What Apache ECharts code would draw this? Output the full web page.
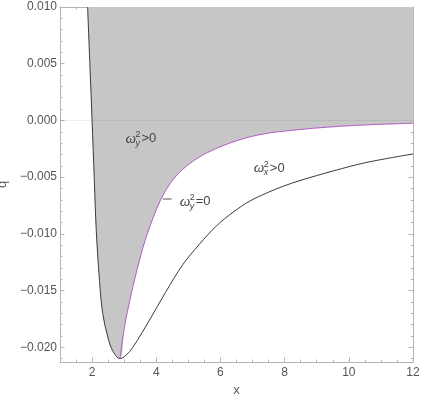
<!DOCTYPE html>
<html>
<head>
<meta charset="utf-8">
<style>html,body{margin:0;padding:0;background:#fff}#c{width:422px;height:396px}</style>
<script src="https://cdn.jsdelivr.net/npm/echarts@6/dist/echarts.min.js"></script>
</head>
<body>
<div id="c"></div>
<script>
// ---- data ----
const xTicks = [2, 4, 6, 8, 10, 12];
const yTicks = [-0.020, -0.015, -0.010, -0.005, 0.000, 0.005, 0.010];

// black boundary curve (omega_x^2 = 0 / left branch)
const blackX = [1.86, 1.93, 2.00, 2.07, 2.13, 2.23, 2.33, 2.49, 2.64, 2.87, 3.06, 3.27, 3.79, 4.28, 4.83, 5.35, 5.875, 6.39, 6.92, 7.44, 7.96, 8.48, 9.52, 10.56, 12.0];
const blackQ = [0.010, 0.005, 0.000, -0.0053, -0.0097, -0.0141, -0.0170, -0.0191, -0.0203, -0.0210, -0.0207, -0.0200, -0.0176, -0.0152, -0.0127, -0.0109, -0.0093, -0.0081, -0.0071, -0.0064, -0.0058, -0.0053, -0.00445, -0.0037, -0.00296];

// magenta curve (omega_y^2 = 0)
const magX = [2.87, 3.01, 3.22, 3.48, 3.72, 4.12, 4.45, 4.83, 5.3, 5.6, 6.29, 7.23, 8.48, 10.14, 12.0];
const magQ = [-0.0210, -0.0182, -0.0153, -0.0123, -0.0100, -0.0071, -0.0055, -0.0043, -0.0033, -0.00283, -0.0020, -0.00125, -0.0008, -0.00045, -0.00025];

// ---- layout / style ----
const X_MIN = 1, X_MAX = 12, Y_MIN = -0.0213, Y_MAX = 0.010;
const FRAME = '#b4b4b4', TXT = '#555';

const xMinor = [];
for (let i = 2; i <= 24; i++) { const v = i / 2; if (v % 2 !== 0) xMinor.push(v); }
const yMinor = [];
for (let i = -21; i <= 10; i++) { if (i % 5 !== 0) yMinor.push(i / 1000); }

const pair = (xs, ys) => xs.map((x, i) => [x, ys[i]]);
const blackData = pair(blackX, blackQ);
const magData = pair(magX, magQ);
const minIdx = blackQ.indexOf(Math.min(...blackQ));
const fillData = blackData.slice(0, minIdx + 1).concat(magData.slice(1));

const fmtY = v => {
  const a = Math.abs(v).toFixed(3);
  return (v < -1e-9 ? '\u2212' : '') + a;
};

function xAxisDef(pos, vals, len, extra) {
  return Object.assign({
    type: 'value', position: pos, min: X_MIN, max: X_MAX,
    axisLine: { show: len > 3, onZero: false, lineStyle: { color: FRAME, width: 1 } },
    axisTick: { show: true, inside: true, length: len, customValues: vals, lineStyle: { color: FRAME } },
    axisLabel: { show: false },
    splitLine: { show: false }
  }, extra || {});
}
function yAxisDef(pos, vals, len, extra) {
  return Object.assign({
    type: 'value', position: pos, min: Y_MIN, max: Y_MAX,
    axisLine: { show: len > 3, onZero: false, lineStyle: { color: FRAME, width: 1 } },
    axisTick: { show: true, inside: true, length: len, customValues: vals, lineStyle: { color: FRAME } },
    axisLabel: { show: false },
    splitLine: { show: false }
  }, extra || {});
}

const chart = echarts.init(document.getElementById('c'), null, { renderer: 'canvas' });
const option = {
  animation: false,
  backgroundColor: '#fff',
  textStyle: { fontFamily: '"Liberation Sans", Arial, sans-serif' },
  grid: { left: 60, right: 9, top: 7, bottom: 34, containLabel: false, outerBoundsMode: 'none' },
  xAxis: [
    xAxisDef('bottom', xTicks, 4.5, {
      axisLabel: { show: true, customValues: xTicks, color: TXT, fontSize: 12, margin: 5 },
      name: 'x', nameLocation: 'middle', nameGap: 20,
      nameTextStyle: { color: TXT, fontSize: 13 }
    }),
    xAxisDef('bottom', xMinor, 2.5),
    xAxisDef('top', xTicks, 4.5),
    xAxisDef('top', xMinor, 2.5)
  ],
  yAxis: [
    yAxisDef('left', yTicks, 4.5, {
      axisLabel: { show: true, customValues: yTicks, color: TXT, fontSize: 12, margin: 3, formatter: fmtY },
      name: 'q', nameLocation: 'middle', nameGap: 46, nameRotate: 90,
      nameTextStyle: { color: TXT, fontSize: 13 }
    }),
    yAxisDef('left', yMinor, 2.5),
    yAxisDef('right', yTicks, 4.5),
    yAxisDef('right', yMinor, 2.5)
  ],
  series: [
    {
      name: 'region', type: 'line', data: fillData, showSymbol: false, silent: true,
      smooth: 0.35,
      lineStyle: { width: 0, opacity: 0 },
      areaStyle: { origin: 'end', color: '#c6c6c6', opacity: 1 },
      z: 1
    },
    {
      name: 'zero', type: 'line', data: [[X_MIN, 0], [X_MAX, 0]], showSymbol: false, silent: true,
      lineStyle: { color: 'rgba(0,0,0,0.07)', width: 1 }, z: 2
    },
    {
      name: 'black', type: 'line', data: blackData, showSymbol: false, silent: true,
      smooth: 0.35,
      lineStyle: { color: '#3a3a3a', width: 1 }, z: 3
    },
    {
      name: 'magenta', type: 'line', data: magData, showSymbol: false, silent: true,
      smooth: 0.35,
      lineStyle: { color: '#b45ac8', width: 1 }, z: 4
    }
  ]
};
chart.setOption(option);

// ---- annotations (placed in data coordinates) ----
const annotations = [
  { at: [3.04, -0.00163], sub: 'y', rest: '>0' },
  { at: [4.73, -0.00716], sub: 'y', rest: '=0' },
  { at: [7.04, -0.0042], sub: 'x', rest: '>0' }
];
const dash = { from: [4.20, -0.00693], to: [4.48, -0.00693] };

const toPx = p => chart.convertToPixel({ xAxisIndex: 0, yAxisIndex: 0 }, p);
const fam = '"Liberation Sans", Arial, sans-serif';
const graphics = annotations.map(a => {
  const p = toPx(a.at);
  return {
    type: 'group', x: p[0], y: p[1], silent: true, z: 20,
    children: [
      { type: 'text', z: 20, x: 0, y: 0, style: { text: '\u03c9', fontSize: 15, fontStyle: 'italic', fontFamily: '"Liberation Serif", serif', fill: '#444', verticalAlign: 'middle' } },
      { type: 'text', z: 20, x: 10, y: -4, style: { text: '2', fontSize: 9, fontFamily: fam, fill: '#444', verticalAlign: 'middle' } },
      { type: 'text', z: 20, x: 10, y: 4.5, style: { text: a.sub, fontSize: 9, fontStyle: 'italic', fontFamily: fam, fill: '#444', verticalAlign: 'middle' } },
      { type: 'text', z: 20, x: 16, y: 0, style: { text: a.rest, fontSize: 13, fontFamily: fam, fill: '#444', verticalAlign: 'middle' } }
    ]
  };
});
const d1 = toPx(dash.from), d2 = toPx(dash.to);
graphics.push({ type: 'line', silent: true, z: 20, shape: { x1: d1[0], y1: d1[1], x2: d2[0], y2: d2[1] }, style: { stroke: '#555', lineWidth: 1 } });
chart.setOption({ graphic: graphics });
</script>
</body>
</html>
